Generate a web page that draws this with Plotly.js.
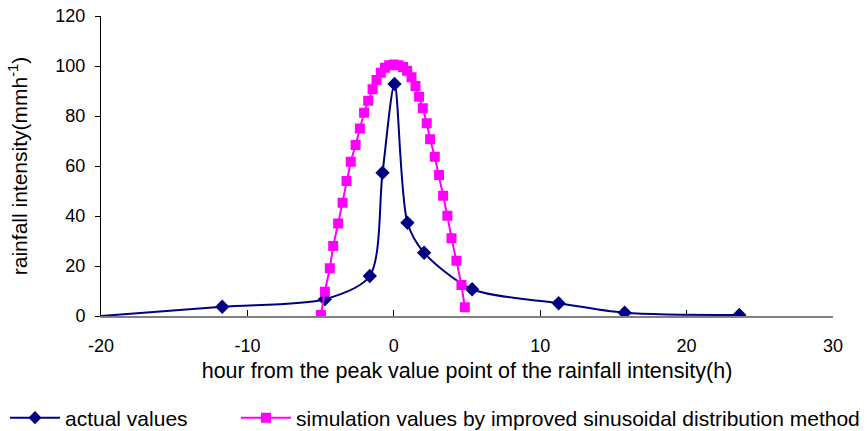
<!DOCTYPE html>
<html>
<head>
<meta charset="utf-8">
<script src="https://cdn.plot.ly/plotly-3.0.1.min.js"></script>
<style>html,body{margin:0;padding:0;background:#fff;}#chart{width:867px;height:431px;}</style>
</head>
<body>
<div id="chart"></div>
<script>
// actual values
const actualX = [-20, -11.72, -4.71, -1.64, -0.77, 0.05, 0.93, 2.07, 5.35, 11.26, 15.77, 23.6];
const actualY = [0, 3.7, 6.7, 16, 57.3, 92.8, 37.3, 25.3, 10.7, 5.1, 1.3, 0.4];

// simulation values by improved sinusoidal distribution method
const simX = [-4.98, -4.71, -4.37, -4.14, -3.80, -3.50, -3.23, -2.94, -2.61, -2.32, -2.03, -1.75,
              -1.45, -1.18, -0.89, -0.61, -0.32, 0.0, 0.32, 0.63, 0.91, 1.21, 1.48, 1.73,
              1.98, 2.25, 2.48, 2.80, 3.09, 3.37, 3.66, 3.94, 4.28, 4.62, 4.85];
const simY = [0.4, 9.7, 19.1, 28, 37, 45.3, 54, 61.7, 68.4, 75, 81.3, 86.1,
              90.7, 94.4, 97.3, 99.3, 100.3, 100.6, 100.3, 99.6, 98.1, 95.5, 92, 87.7,
              83.1, 77.1, 70.7, 63.7, 56.4, 48.1, 40.1, 31.1, 22.1, 12.4, 3.5];

const xTicks = [-20, -10, 0, 10, 20, 30];
const yTicks = [0, 20, 40, 60, 80, 100, 120];

const font = "Liberation Sans, Arial, sans-serif";

// plot area in pixels (for placing legends in paper coordinates)
const L = 101, R = 34, T = 16, B = 115, W = 867, H = 431;
const pw = W - L - R, ph = H - T - B;
const px2x = p => (p - L) / pw;
const py2y = p => (H - B - p) / ph;

const traces = [
  {
    x: actualX, y: actualY, type: 'scatter', mode: 'lines+markers',
    name: 'actual values', legend: 'legend',
    line: {color: '#000080', width: 2, shape: 'spline', smoothing: 0.8},
    marker: {symbol: 'diamond', color: '#000080', opacity: 1, line: {width: 0},
             size: actualX.map((v, i) => i === 0 ? 0 : 11)}
  },
  {
    x: simX, y: simY, type: 'scatter', mode: 'lines+markers',
    name: 'simulation values by improved sinusoidal distribution method', legend: 'legend2',
    line: {color: '#FF00FF', width: 2},
    marker: {symbol: 'square', color: '#FF00FF', size: 10, line: {width: 0}}
  }
];

const legendBase = {
  orientation: 'h', xanchor: 'left', yanchor: 'middle',
  y: py2y(418),
  font: {family: font, size: 21, color: '#000'},
  bgcolor: 'rgba(0,0,0,0)', borderwidth: 0, itemwidth: 50
};

const layout = {
  width: W, height: H,
  margin: {l: L, r: R, t: T, b: B, autoexpand: false},
  paper_bgcolor: '#fff', plot_bgcolor: '#fff',
  font: {family: font, color: '#000', size: 18},
  showlegend: true,
  legend: Object.assign({}, legendBase, {x: px2x(5)}),
  legend2: Object.assign({}, legendBase, {x: px2x(236)}),
  xaxis: {
    range: [-20, 30], tickvals: xTicks, ticktext: xTicks.map(String),
    showgrid: false, zeroline: false,
    showline: true, linecolor: '#808080', linewidth: 2,
    ticks: 'inside', ticklen: 6, tickcolor: '#000', tickwidth: 1,
    ticklabelstandoff: 12,
    tickfont: {family: font, size: 18, color: '#000'},
    title: {text: 'hour from the peak value point of the rainfall intensity(h)', font: {family: font, size: 21.5, color: '#000'}, standoff: 8}
  },
  yaxis: {
    range: [0, 120], tickvals: yTicks, ticktext: yTicks.map(String),
    showgrid: false, zeroline: false,
    showline: true, linecolor: '#000', linewidth: 1,
    ticks: 'outside', ticklen: 5, tickcolor: '#000',
    ticklabelstandoff: 6,
    tickfont: {family: font, size: 18, color: '#000'},
    title: {text: 'rainfall intensity(mmh<sup>-1</sup>)', font: {family: font, size: 21, color: '#000'}, standoff: 22}
  }
};

Plotly.newPlot('chart', traces, layout, {displayModeBar: false, staticPlot: true});
</script>
</body>
</html>
